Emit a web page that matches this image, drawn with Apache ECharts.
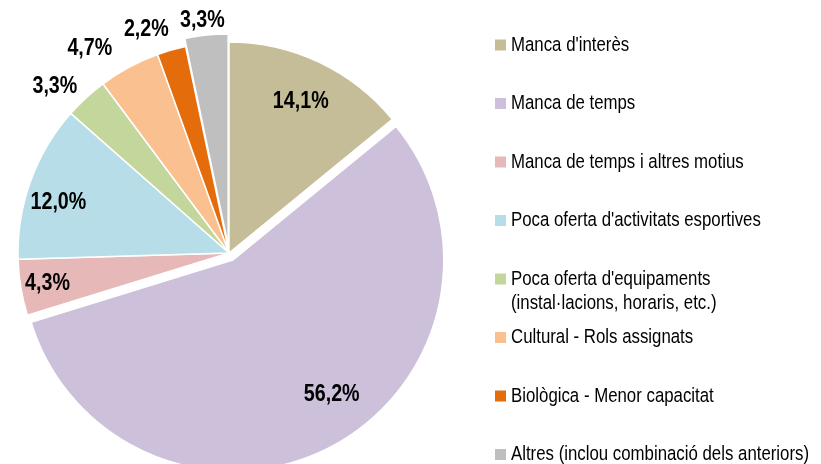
<!DOCTYPE html>
<html>
<head>
<meta charset="utf-8">
<script src="https://cdn.jsdelivr.net/npm/echarts@6/dist/echarts.min.js"></script>
<style>
  html, body { margin: 0; padding: 0; background: #fff; }
  #chart { width: 821px; height: 464px; }
</style>
</head>
<body>
<div id="chart"></div>
<script>
// Motius per no fer activitat física (%)
const categories = [
  "Manca d'interès",
  "Manca de temps",
  "Manca de temps i altres motius",
  "Poca oferta d'activitats esportives",
  "Poca oferta d'equipaments\n(instal·lacions, horaris, etc.)",
  "Cultural - Rols assignats",
  "Biològica - Menor capacitat",
  "Altres (inclou combinació dels anteriors)"
];
const shares = [14.1, 56.2, 4.3, 12.0, 3.3, 4.7, 2.2, 3.3];
const colors = ['#C4BD97', '#CCC0DA', '#E6B9B8', '#B7DEE8', '#C3D69B', '#FAC090', '#E46C0A', '#BFBFBF'];
const explodedSlices = [1, 7];

const FONT = "'Liberation Sans', Arial, sans-serif";
const NARROW = 0.82;   // horizontal squeeze giving a narrow face
const CENTER = [229, 253];
const R = 211;

const fmt = v => v.toFixed(1).replace('.', ',') + '%';

const labelFont = {
  color: '#000',
  fontFamily: FONT,
  fontWeight: 'bold',
  fontSize: 24
};

// outside labels: radial distance and horizontal gap per slice
const outsideLabel = {
  4: { length: 16, gap: -2 },
  5: { length: 21, gap: 7 },
  6: { length: 21, gap: -3 },
  7: { length: 15, gap: -20 }
};

// inside labels: each sits in the middle of a transparent ring [inner, R],
// turned by a few degrees where the label leans off the slice's mid-angle
const insideLabel = {
  0: { inner: 118, turn: 0 },
  1: { inner: 117, turn: 7.7 },
  2: { inner: 151, turn: 0 },
  3: { inner: 139, turn: 3.3 }
};

function mainSeries() {
  return {
    type: 'pie',
    center: CENTER,
    radius: R,
    startAngle: 90,
    clockwise: true,
    selectedMode: 'multiple',
    selectedOffset: 8,
    avoidLabelOverlap: false,
    silent: true,
    emphasis: { disabled: true },
    itemStyle: { borderColor: '#fff', borderWidth: 1.5 },
    label: Object.assign({ show: false, position: 'outside', formatter: p => fmt(p.value) }, labelFont),
    labelLine: { show: false, length2: 0 },
    data: shares.map((v, i) => {
      const item = {
        name: categories[i],
        value: v,
        selected: explodedSlices.includes(i),
        itemStyle: { color: colors[i] }
      };
      if (outsideLabel[i]) {
        item.label = { show: true, distanceToLabelLine: outsideLabel[i].gap };
        item.labelLine = { show: false, length: outsideLabel[i].length, length2: 0 };
      }
      return item;
    })
  };
}

function labelRing(index, cfg) {
  return {
    type: 'pie',
    center: CENTER,
    radius: [cfg.inner, R],
    startAngle: 90 + cfg.turn,
    clockwise: true,
    selectedMode: 'multiple',
    selectedOffset: 8,
    silent: true,
    emphasis: { disabled: true },
    tooltip: { show: false },
    itemStyle: { color: 'rgba(0,0,0,0)', borderWidth: 0 },
    label: Object.assign({ show: false, position: 'inside', formatter: p => fmt(p.value) }, labelFont),
    labelLine: { show: false },
    data: shares.map((v, i) => ({
      name: categories[i],
      value: v,
      selected: explodedSlices.includes(i),
      label: { show: i === index }
    }))
  };
}

const legends = categories.map((name, i) => {
  const multiLine = name.indexOf('\n') >= 0;
  return {
    data: [name],
    orient: 'vertical',
    left: 495,
    top: 33 + i * 58.5,
    padding: 0,
    itemGap: 0,
    itemWidth: 11,
    itemHeight: multiLine ? 35 : 11,
    icon: multiLine ? 'path://M0,0L11,0L11,11L0,11Z M0,35' : 'rect',
    itemStyle: { borderWidth: 0 },
    selectedMode: false,
    textStyle: { color: '#000', fontFamily: FONT, fontSize: 20.5, lineHeight: 24 }
  };
});

const series = [mainSeries()];
Object.keys(insideLabel).forEach(k => series.push(labelRing(+k, insideLabel[k])));

const chart = echarts.init(document.getElementById('chart'), null, { renderer: 'canvas' });
chart.setOption({
  backgroundColor: '#fff',
  animation: false,
  legend: legends,
  series: series
});

// squeeze every text horizontally around its own anchor point
function condenseText(ch, factor) {
  const zr = ch.getZr();
  const done = new Set();
  zr.storage.getDisplayList(true).forEach(el => {
    if (el.type !== 'tspan' && el.type !== 'text') return;
    const target = el.parent && el.parent.type === 'text' ? el.parent : el;
    if (done.has(target)) return;
    done.add(target);
    target.originX = (target.style && target.style.x) || 0;
    target.originY = (target.style && target.style.y) || 0;
    target.scaleX = factor;
    target.markRedraw();
  });
  zr.refreshImmediately();
}
condenseText(chart, NARROW);
</script>
</body>
</html>
